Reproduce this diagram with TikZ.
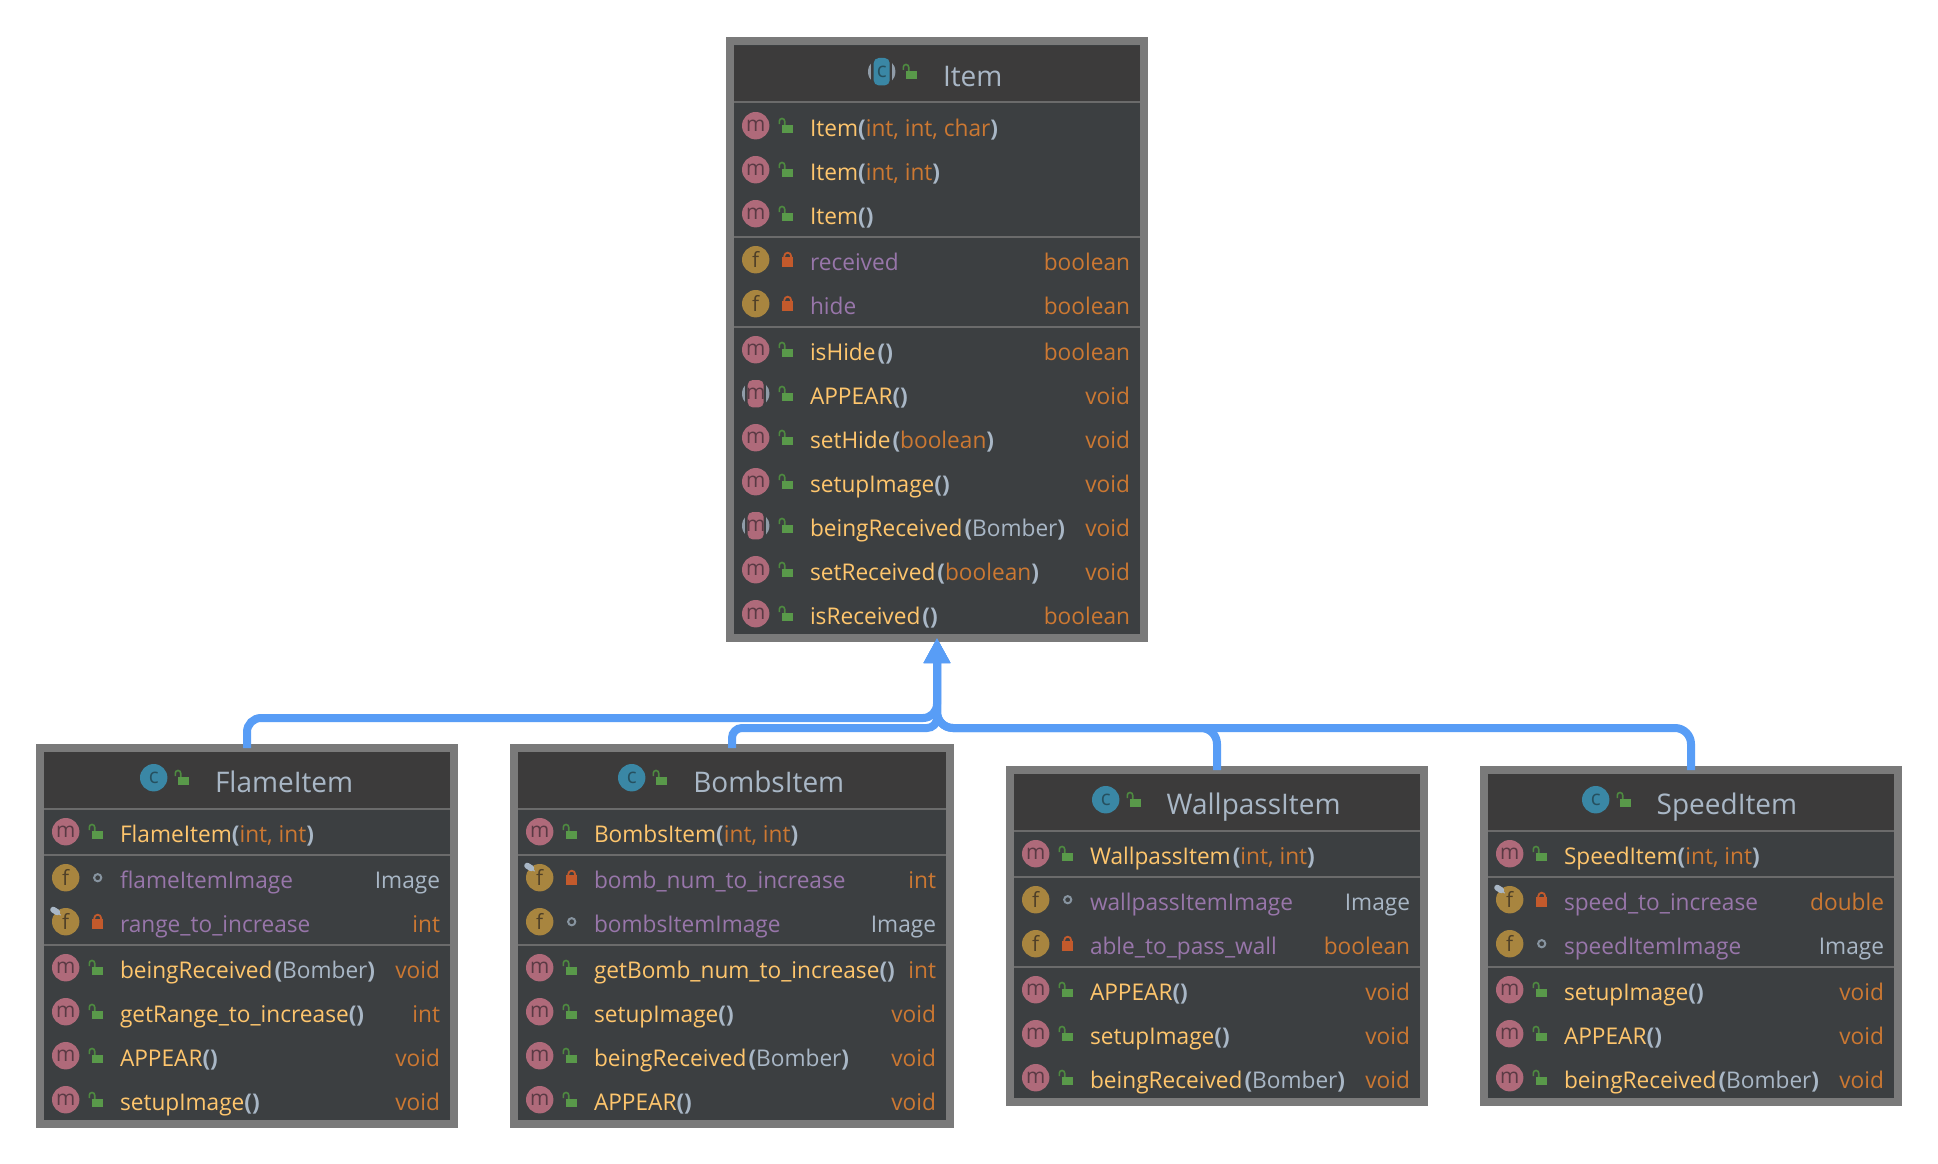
\documentclass[tikz,border=0pt]{standalone}
\usepackage{fontspec}
\setmainfont[FakeStretch=0.985]{Open Sans}
\usetikzlibrary{arrows.meta}
\definecolor{framegray}{HTML}{7A7A7A}
\definecolor{sepgray}{HTML}{6B6B6B}
\definecolor{headbg}{HTML}{3C3B3B}
\definecolor{bodybg}{HTML}{3C3F41}
\definecolor{cname}{HTML}{FFC66D}
\definecolor{ctype}{HTML}{CC7832}
\definecolor{cgray}{HTML}{A9B7C6}
\definecolor{cfield}{HTML}{9876AA}
\definecolor{iconm}{HTML}{AF6A7A}
\definecolor{glyphm}{HTML}{5A3A44}
\definecolor{iconf}{HTML}{A8853F}
\definecolor{glyphf}{HTML}{4F4028}
\definecolor{iconc}{HTML}{3A87A5}
\definecolor{glyphc}{HTML}{26505F}
\definecolor{lockg}{HTML}{59994A}
\definecolor{lockgd}{HTML}{4E8A40}
\definecolor{lockr}{HTML}{C35A2C}
\definecolor{ringg}{HTML}{8794A0}
\definecolor{pinc}{HTML}{A9B7C6}
\definecolor{arrowc}{HTML}{589DF6}
\newcounter{rn}
\newcommand{\nm}[1]{\textcolor{cname}{#1}}
\newcommand{\pa}[1]{\textcolor{cgray}{#1}}
\newcommand{\pb}[1]{\textcolor{cgray}{\bfseries #1}}
\newcommand{\ty}[1]{\textcolor{ctype}{#1}}
\newcommand{\fl}[1]{\textcolor{cfield}{#1}}
\newcommand{\gp}{\kern2pt}
\tikzset{
  classbox/.style={draw=framegray,line width=8pt,fill=bodybg,inner sep=0pt,outer sep=0pt},
  rowtext/.style={font=\fontsize{23}{23}\selectfont,inner sep=0pt,outer sep=0pt},
  titletext/.style={font=\fontsize{28.4}{28.4}\selectfont,inner sep=0pt,outer sep=0pt,text=cgray},
  iconglyph/.style={font=\fontsize{21}{21}\selectfont,inner sep=0pt,outer sep=0pt},
  sepline/.style={sepgray,line width=2pt},
  conn/.style={arrowc,line width=8pt,-{Triangle[length=25pt,width=25pt]}},
}
% icons
\newcommand{\icm}[2]{\stepcounter{rn}\node[circle,fill=iconm,minimum size=27.4pt,iconglyph,text=glyphm] (ic\arabic{rn}) at (#1,#2) {m};}
\newcommand{\icf}[2]{\stepcounter{rn}\node[circle,fill=iconf,minimum size=27.4pt,iconglyph,text=glyphf] (ic\arabic{rn}) at (#1,#2) {f};}
\newcommand{\icc}[2]{\stepcounter{rn}\node[circle,fill=iconc,minimum size=27.4pt,iconglyph,text=glyphc] (ic\arabic{rn}) at (#1,#2) {c};}
\newcommand{\icpf}[2]{\icf{#1}{#2}%
  \begin{scope}[shift={(#1,#2)}]
    \draw[pinc,line width=1pt] (-9,-10) -- (-5,-6.5);
    \draw[pinc,line width=6pt,line cap=round] (-12.5,-12) -- (-8.5,-9.5);
  \end{scope}}
\newcommand{\abstractbase}[3]{%
  \begin{scope}[shift={(#1,#2)}]
    \fill[pinc!85!black] (0,0) circle (13.7);
    \fill[#3] (-10.6,-14) rectangle (10.6,14);
  \end{scope}}
\newcommand{\icam}[2]{\abstractbase{#1}{#2}{bodybg}%
  \fill[iconm,rounded corners=5pt] (#1-8,#2-13.7) rectangle (#1+8,#2+13.7);
  \stepcounter{rn}\node[iconglyph,text=glyphm] (ic\arabic{rn}) at (#1,#2) {m};}
\newcommand{\icac}[2]{\abstractbase{#1}{#2}{headbg}%
  \fill[iconc,rounded corners=5pt] (#1-8,#2-13.7) rectangle (#1+8,#2+13.7);
  \stepcounter{rn}\node[iconglyph,text=glyphc] (ic\arabic{rn}) at (#1,#2) {c};}
% visibility marks
\newcommand{\lkpub}[2]{\begin{scope}[shift={(#1,#2)}]
    \draw[lockgd,line width=1.6pt] (-8.4,-1.7) -- (-8.4,-4.5) arc (180:360:2.7) -- (-3,0);
    \fill[lockg] (-5.7,-0.7) rectangle (5.7,7.6);
  \end{scope}}
\newcommand{\lkpriv}[2]{\begin{scope}[shift={(#1,#2)}]
    \draw[lockr,line width=1.8pt] (-3.4,-2) -- (-3.4,-3.6) arc (180:360:3.4) -- (3.4,-2);
    \fill[lockr] (-5.7,-2.4) rectangle (5.7,7.6);
  \end{scope}}
\newcommand{\lkpkg}[2]{\draw[ringg,line width=2pt] (#1,#2) circle (3.6);}
% rows: y, icon, mark, left text, right text
\newcommand{\crow}[4]{\csname ic#2\endcsname{\bx+29.7}{#1}%
  \csname lk#3\endcsname{\bx+61.7}{#1}%
  \stepcounter{rn}\node[rowtext,anchor=base west] (tl\arabic{rn}) at (\bx+84,#1+10.5) {#4};}
\newcommand{\mrow}[5]{\crow{#1}{#2}{#3}{#4}%
  \stepcounter{rn}\node[rowtext,anchor=base east] (tr\arabic{rn}) at (\bx+\bw-18,#1+10.5) {#5};}
\newcommand{\hsep}[3]{\draw[sepline] (\bx+8,#1) -- (\bx+\bw-8,#1);}
% header: top (path), bottom line, icon macro, icon x, title x, title
\newcommand{\headr}[6]{\fill[headbg] (\bx+8,#1+2) rectangle (\bx+\bw-8,#2);
  \draw[sepline] (\bx+8,#2) -- (\bx+\bw-8,#2);
  \csname ic#3\endcsname{#4}{#1+27.7}%
  \lkpub{#4+30}{#1+27.7}%
  \stepcounter{rn}\node[titletext,anchor=base west] (ti\arabic{rn}) at (#5,#1+42) {#6};}
\begin{document}
\begin{tikzpicture}[x=1pt,y=-1pt]
\useasboundingbox (0,0) rectangle (1938,1164);
\fill[white] (0,0) rectangle (1938,1164);
% ---------- Item
\node[classbox,minimum width=414pt,minimum height=597pt] (item) at (937,339.5) {};
\def\bx{726}\def\bw{422}
\headr{44}{102}{ac}{881.7}{943}{Item}
\crow{125.7}{m}{pub}{\nm{Item}\pb{(}\ty{int, int, char}\pb{)}}
\crow{169.7}{m}{pub}{\nm{Item}\pb{(}\ty{int, int}\pb{)}}
\crow{213.7}{m}{pub}{\nm{Item}\pb{()}}
\hsep{237}{}{}
\mrow{259.7}{f}{priv}{\fl{received}}{\ty{boolean}}
\mrow{303.7}{f}{priv}{\fl{hide}}{\ty{boolean}}
\hsep{327}{}{}
\mrow{349.7}{m}{pub}{\nm{isHide}\gp\pb{()}}{\ty{boolean}}
\mrow{393.7}{am}{pub}{\nm{APPEAR}\pb{()}}{\ty{void}}
\mrow{437.7}{m}{pub}{\nm{setHide}\gp\pb{(}\ty{boolean}\pb{)}}{\ty{void}}
\mrow{481.7}{m}{pub}{\nm{setupImage}\pb{()}}{\ty{void}}
\mrow{525.7}{am}{pub}{\nm{beingReceived}\gp\pb{(}\pa{Bomber}\pb{)}}{\ty{void}}
\mrow{569.7}{m}{pub}{\nm{setReceived}\gp\pb{(}\ty{boolean}\pb{)}}{\ty{void}}
\mrow{613.7}{m}{pub}{\nm{isReceived}\gp\pb{()}}{\ty{boolean}}
% ---------- FlameItem
\node[classbox,minimum width=414pt,minimum height=376pt] (flame) at (247,936) {};
\def\bx{36}\def\bw{422}
\headr{750}{809}{c}{153.7}{215}{FlameItem}
\crow{831.7}{m}{pub}{\nm{FlameItem}\pb{(}\ty{int, int}\pb{)}}
\hsep{855}{}{}
\mrow{877.7}{f}{pkg}{\fl{flameItemImage}}{\pa{Image}}
\mrow{921.7}{pf}{priv}{\fl{range\_to\_increase}}{\ty{int}}
\hsep{945}{}{}
\mrow{967.7}{m}{pub}{\nm{beingReceived}\gp\pb{(}\pa{Bomber}\pb{)}}{\ty{void}}
\mrow{1011.7}{m}{pub}{\nm{getRange\_to\_increase}\pb{()}}{\ty{int}}
\mrow{1055.7}{m}{pub}{\nm{APPEAR}\pb{()}}{\ty{void}}
\mrow{1099.7}{m}{pub}{\nm{setupImage}\pb{()}}{\ty{void}}
% ---------- BombsItem
\node[classbox,minimum width=436pt,minimum height=376pt] (bombs) at (732,936) {};
\def\bx{510}\def\bw{444}
\headr{750}{809}{c}{631.7}{693.3}{BombsItem}
\crow{831.7}{m}{pub}{\nm{BombsItem}\pb{(}\ty{int, int}\pb{)}}
\hsep{855}{}{}
\mrow{877.7}{pf}{priv}{\fl{bomb\_num\_to\_increase}}{\ty{int}}
\mrow{921.7}{f}{pkg}{\fl{bombsItemImage}}{\pa{Image}}
\hsep{945}{}{}
\mrow{967.7}{m}{pub}{\nm{getBomb\_num\_to\_increase}\pb{()}}{\ty{int}}
\mrow{1011.7}{m}{pub}{\nm{setupImage}\pb{()}}{\ty{void}}
\mrow{1055.7}{m}{pub}{\nm{beingReceived}\gp\pb{(}\pa{Bomber}\pb{)}}{\ty{void}}
\mrow{1099.7}{m}{pub}{\nm{APPEAR}\pb{()}}{\ty{void}}
% ---------- WallpassItem
\node[classbox,minimum width=414pt,minimum height=332pt] (wall) at (1217,936) {};
\def\bx{1006}\def\bw{422}
\headr{772}{831}{c}{1105.7}{1166.7}{WallpassItem}
\crow{853.7}{m}{pub}{\nm{WallpassItem}\gp\pb{(}\ty{int, int}\pb{)}}
\hsep{877}{}{}
\mrow{899.7}{f}{pkg}{\fl{wallpassItemImage}}{\pa{Image}}
\mrow{943.7}{f}{priv}{\fl{able\_to\_pass\_wall}}{\ty{boolean}}
\hsep{967}{}{}
\mrow{989.7}{m}{pub}{\nm{APPEAR}\pb{()}}{\ty{void}}
\mrow{1033.7}{m}{pub}{\nm{setupImage}\pb{()}}{\ty{void}}
\mrow{1077.7}{m}{pub}{\nm{beingReceived}\gp\pb{(}\pa{Bomber}\pb{)}}{\ty{void}}
% ---------- SpeedItem
\node[classbox,minimum width=414pt,minimum height=332pt] (speed) at (1691,936) {};
\def\bx{1480}\def\bw{422}
\headr{772}{831}{c}{1595.7}{1656.7}{SpeedItem}
\crow{853.7}{m}{pub}{\nm{SpeedItem}\pb{(}\ty{int, int}\pb{)}}
\hsep{877}{}{}
\mrow{899.7}{pf}{priv}{\fl{speed\_to\_increase}}{\ty{double}}
\mrow{943.7}{f}{pkg}{\fl{speedItemImage}}{\pa{Image}}
\hsep{967}{}{}
\mrow{989.7}{m}{pub}{\nm{setupImage}\pb{()}}{\ty{void}}
\mrow{1033.7}{m}{pub}{\nm{APPEAR}\pb{()}}{\ty{void}}
\mrow{1077.7}{m}{pub}{\nm{beingReceived}\gp\pb{(}\pa{Bomber}\pb{)}}{\ty{void}}
% ---------- connectors
\coordinate (trunkhi) at (937,718);
\coordinate (trunklo) at (937,728);
\draw[conn,rounded corners=14pt] (flame.north) -- (flame.north |- trunkhi) -- (trunkhi) -- (item.south);
\draw[conn,rounded corners=10pt] (bombs.north) -- (bombs.north |- trunklo) -- (trunklo) -- (item.south);
\draw[conn,rounded corners=16pt] (wall.north) -- (wall.north |- trunklo) -- (trunklo) -- (item.south);
\draw[conn,rounded corners=16pt] (speed.north) -- (speed.north |- trunklo) -- (trunklo) -- (item.south);
\end{tikzpicture}
\end{document}
